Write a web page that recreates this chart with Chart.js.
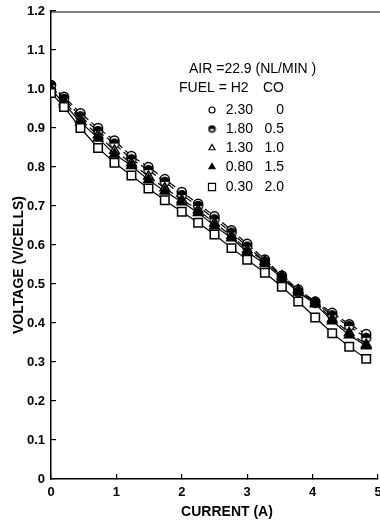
<!DOCTYPE html>
<html>
<head>
<meta charset="utf-8">
<script src="https://cdn.jsdelivr.net/npm/chart.js@4.4.0/dist/chart.umd.min.js"></script>
<style>
  html, body { margin: 0; padding: 0; background: #fff; }
  #wrap { width: 380px; height: 520px; }
</style>
</head>
<body>
<div id="wrap"><canvas id="chart" width="380" height="520"></canvas></div>
<script>
// current (A) and cell voltage
const current = [0, 0.2, 0.45, 0.72, 0.97, 1.23, 1.49, 1.74, 2.0, 2.25, 2.5, 2.76, 3.0, 3.27, 3.53, 3.78, 4.04, 4.3, 4.56, 4.82];
const vH230 = [1.01, 0.98, 0.938, 0.90, 0.868, 0.828, 0.80, 0.769, 0.736, 0.706, 0.674, 0.638, 0.603, 0.563, 0.522, 0.486, 0.455, 0.426, 0.397, 0.372];
const vH180 = [1.01, 0.975, 0.93, 0.892, 0.86, 0.82, 0.792, 0.762, 0.728, 0.70, 0.666, 0.632, 0.596, 0.558, 0.518, 0.48, 0.452, 0.42, 0.392, 0.362];
const vH130 = [1.0, 0.968, 0.922, 0.882, 0.842, 0.81, 0.776, 0.746, 0.716, 0.69, 0.656, 0.624, 0.588, 0.558, 0.52, 0.484, 0.452, 0.41, 0.375, 0.345];
const vH080 = [1.0, 0.962, 0.915, 0.874, 0.833, 0.803, 0.767, 0.738, 0.71, 0.683, 0.649, 0.618, 0.582, 0.552, 0.515, 0.479, 0.449, 0.405, 0.369, 0.341];
const vH030 = [0.99, 0.954, 0.90, 0.849, 0.811, 0.778, 0.745, 0.715, 0.685, 0.657, 0.627, 0.592, 0.562, 0.529, 0.493, 0.455, 0.414, 0.374, 0.339, 0.308];

const h2Flow = ['2.30', '1.80', '1.30', '0.80', '0.30'];
const coFlow = ['0', '0.5', '1.0', '1.5', '2.0'];
const xTicks = [0, 1, 2, 3, 4, 5];
const yTicks = [0, 0.1, 0.2, 0.3, 0.4, 0.5, 0.6, 0.7, 0.8, 0.9, 1.0, 1.1, 1.2];

const FONT = '"Liberation Sans", Arial, sans-serif';

// half filled circle for the 1.80 / 0.5 run
function halfDot(r) {
  const c = document.createElement('canvas');
  const s = Math.ceil(2 * r + 3);
  c.width = c.height = s;
  const g = c.getContext('2d');
  const m = s / 2;
  g.fillStyle = '#fff';
  g.beginPath(); g.arc(m, m, r, 0, Math.PI * 2); g.fill();
  g.fillStyle = '#000';
  g.beginPath(); g.arc(m, m, r, Math.PI, 0); g.closePath(); g.fill();
  g.strokeStyle = '#000'; g.lineWidth = 1.5;
  g.beginPath(); g.arc(m, m, r, 0, Math.PI * 2); g.stroke();
  return c;
}

function pts(v) { return current.map((x, i) => ({ x: x, y: v[i] })); }

function series(v, style, fill, radius, dash) {
  return {
    data: pts(v), showLine: true,
    borderColor: '#000', borderWidth: 1.2, borderDash: dash,
    pointStyle: style, pointRadius: radius, pointHoverRadius: radius,
    pointBackgroundColor: fill, pointBorderColor: '#000', pointBorderWidth: 1.5
  };
}

// legend entries in the order of the key (top to bottom)
const keyStyles = [
  { style: 'circle', fill: '#fff', r: 3 },
  { style: halfDot(3), fill: '#000', r: 3 },
  { style: 'triangle', fill: '#fff', r: 3.5 },
  { style: 'triangle', fill: '#000', r: 3.5 },
  { style: 'rect', fill: '#fff', r: 5 }
];

const annotate = {
  id: 'annotate',
  afterDatasetsDraw(chart) {
    const ctx = chart.ctx;
    const a = chart.chartArea;
    ctx.save();
    // top frame line
    ctx.strokeStyle = '#000'; ctx.lineWidth = 1.2;
    ctx.beginPath(); ctx.moveTo(a.left, a.top + 1); ctx.lineTo(chart.width, a.top + 1); ctx.stroke();

    ctx.fillStyle = '#000';
    ctx.font = '14px ' + FONT;
    ctx.textBaseline = 'middle';
    ctx.textAlign = 'left';
    ctx.fillText('AIR =22.9 (NL/MIN )', 189, 69);
    ctx.fillText('FUEL = H2', 179, 88);
    ctx.fillText('CO', 263, 88);
    const rowsY = [110, 129, 148, 167, 187];
    keyStyles.forEach((k, i) => {
      ctx.textAlign = 'right';
      ctx.fillStyle = '#000';
      ctx.fillText(h2Flow[i], 253, rowsY[i]);
      ctx.fillText(coFlow[i], 284, rowsY[i]);
      ctx.fillStyle = k.fill; ctx.strokeStyle = '#000'; ctx.lineWidth = 1.2;
      Chart.helpers.drawPoint(ctx, { pointStyle: k.style, radius: k.r, borderWidth: 1.2, rotation: 0 }, 212, rowsY[i]);
    });

    // axis titles
    ctx.fillStyle = '#000';
    ctx.font = 'bold 14px ' + FONT;
    ctx.textAlign = 'center';
    ctx.fillText('CURRENT (A)', 227, 512);
    ctx.translate(19, 265);
    ctx.rotate(-Math.PI / 2);
    ctx.fillText('VOLTAGE (V/CELLS)', 0, 0);
    ctx.restore();
  }
};

new Chart(document.getElementById('chart'), {
  type: 'scatter',
  data: {
    datasets: [
      series(vH030, 'rect', '#fff', 6, []),
      series(vH080, 'triangle', '#000', 5.5, []),
      series(vH130, 'triangle', '#fff', 5.5, [7, 4]),
      series(vH180, halfDot(4.5), '#000', 4.5, [7, 4]),
      series(vH230, 'circle', '#fff', 4.5, [7, 4])
    ]
  },
  options: {
    responsive: false,
    animation: false,
    layout: { autoPadding: false, padding: { top: 11, right: 2, left: 0, bottom: 0 } },
    plugins: { legend: { display: false }, tooltip: { enabled: false } },
    scales: {
      x: {
        type: 'linear', min: 0, max: 5,
        afterBuildTicks: s => { s.ticks = xTicks.map(v => ({ value: v })); },
        afterFit: s => { s.height = 41; s.paddingLeft = 0; s.paddingRight = 0; },
        ticks: { color: '#000', font: { family: FONT, size: 13, weight: 'bold' }, padding: 11, maxRotation: 0, callback: v => String(v) },
        grid: { drawOnChartArea: false, tickLength: -5, color: '#000', lineWidth: 1.2 },
        border: { color: '#000', width: 1.5 }
      },
      y: {
        type: 'linear', min: 0, max: 1.2,
        afterBuildTicks: s => { s.ticks = yTicks.map(v => ({ value: v })); },
        afterFit: s => { s.width = 51; s.paddingTop = 0; s.paddingBottom = 0; },
        ticks: { color: '#000', font: { family: FONT, size: 13, weight: 'bold' }, padding: 11, callback: v => v === 0 ? '0' : v.toFixed(1) },
        grid: { drawOnChartArea: false, tickLength: -5, color: '#000', lineWidth: 1.2 },
        border: { color: '#000', width: 1.5 }
      }
    }
  },
  plugins: [annotate]
});
</script>
</body>
</html>
